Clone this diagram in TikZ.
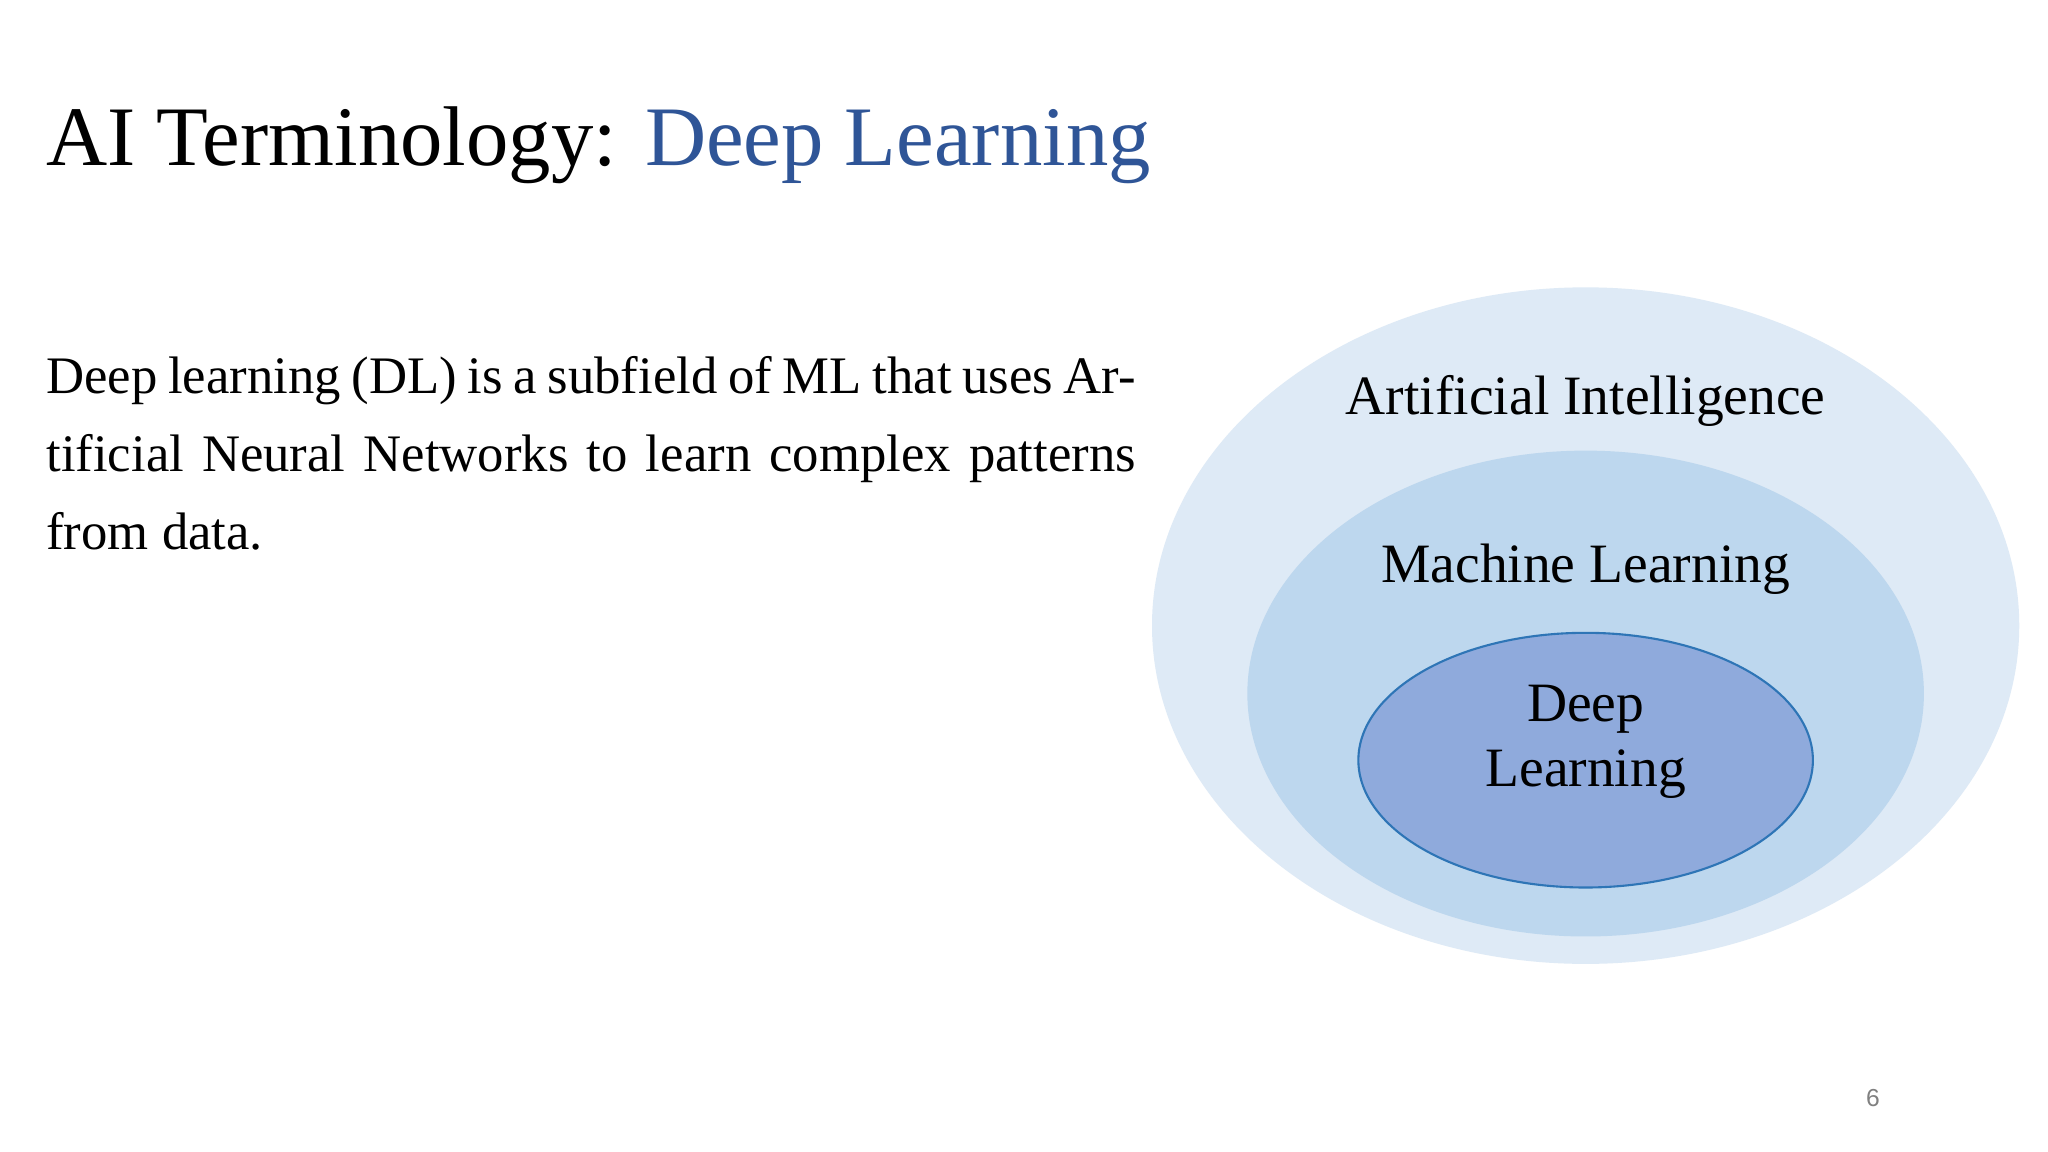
\documentclass[tikz,border=0pt]{standalone}
\usepackage{fontspec}
\setmainfont{Liberation Serif}
\newfontfamily\numfont{Liberation Sans}
\definecolor{outerc}{HTML}{DEEAF6}
\definecolor{midc}{HTML}{BDD7EE}
\definecolor{innerc}{HTML}{8FAADC}
\definecolor{innerb}{HTML}{2E75B6}
\definecolor{titleblue}{HTML}{2F5597}
\tikzset{lbl/.style={font=\fontsize{15.8}{19}\selectfont, align=center, inner sep=0pt}}
\begin{document}
\begin{tikzpicture}[x=0.01306cm,y=-0.01306cm]
\useasboundingbox (0,0) rectangle (1568,882);
\fill[white] (0,0) rectangle (1568,882);
\node[anchor=base west, inner sep=0pt, font=\fontsize{24.1}{29}\selectfont] (title) at (35,127) {AI Terminology: \textcolor{titleblue}{Deep Learning}};
\node[anchor=north west, inner sep=0pt, text width=310pt, align=justify, font=\fontsize{15}{22.3}\selectfont] (body) at (35,272) {Deep learning (DL) is a subfield of ML that uses Artificial Neural Networks to learn complex patterns from data.};
\fill[outerc] (1214,479) ellipse [x radius=332, y radius=259];
\fill[midc] (1214,531) ellipse [x radius=259, y radius=186];
\filldraw[fill=innerc, draw=innerb, line width=0.6pt] (1214,582) ellipse [x radius=174, y radius=97.5];
\node[lbl] (ai) at (1214,307) {Artificial Intelligence};
\node[lbl] (ml) at (1214,436) {Machine Learning};
\node[lbl, font=\fontsize{15.8}{18.6}\selectfont] (dl) at (1214,568) {Deep\\Learning};
\node[inner sep=0pt, font=\numfont\fontsize{7}{8}\selectfont, text=gray] (pg) at (1434,841) {6};
\end{tikzpicture}
\end{document}
